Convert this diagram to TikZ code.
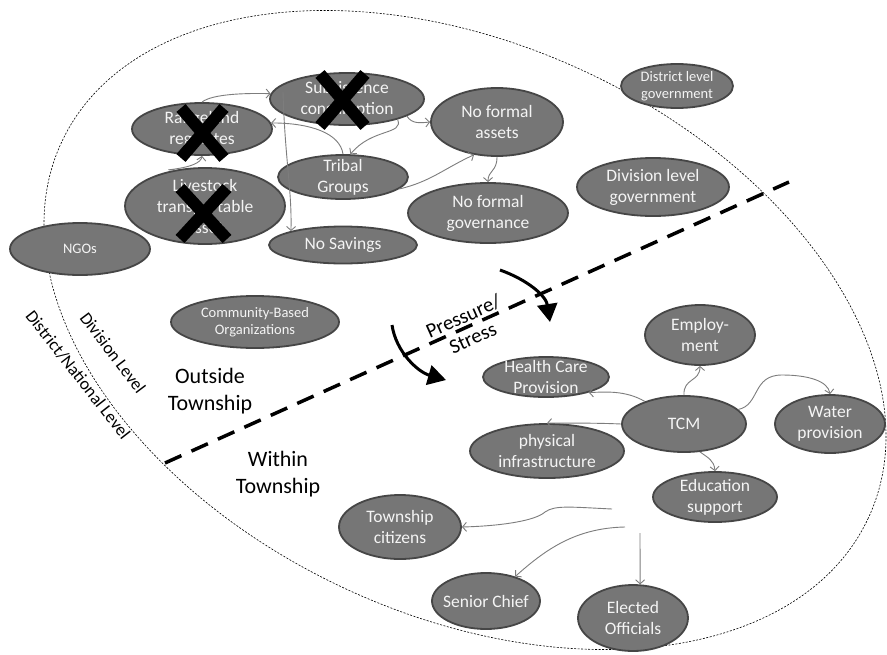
\documentclass[tikz,border=0pt]{standalone}
\usepackage{fontspec}
\setmainfont{Carlito}
\usetikzlibrary{arrows.meta,shapes.geometric}
\definecolor{nodefill}{RGB}{118,118,118}
\definecolor{nodeedge}{RGB}{70,70,70}
\definecolor{nodetext}{RGB}{244,244,244}
\definecolor{linkgray}{RGB}{125,125,125}
\tikzset{
  ell/.style={ellipse, draw=nodeedge, line width=1.8pt, fill=nodefill, text=nodetext,
    inner xsep=-20pt, inner ysep=-14pt, align=center, font=\fontsize{17.5}{21}\selectfont},
  ells/.style={ell, font=\fontsize{14.5}{17.5}\selectfont},
  link/.style={draw=linkgray, line width=0.9pt, -{Straight Barb[length=4pt,width=9pt]}},
  crossmark/.style={line width=12pt, black},
  biglbl/.style={align=center, text=black, font=\fontsize{22}{27}\selectfont},
  stresslbl/.style={align=center, text=black, font=\fontsize{20.5}{23.5}\selectfont},
  levellbl/.style={text=black, font=\fontsize{17.5}{21}\selectfont},
  bigarrow/.style={line width=3pt, black, -{Triangle[length=18pt,width=20pt]}}
}
\begin{document}
\begin{tikzpicture}[x=1pt,y=-1pt]
\useasboundingbox (0,0) rectangle (887,654);
\fill[white] (0,0) rectangle (887,654);

% outer dashed boundary
\draw[black, line width=0.6pt, dash pattern=on 2pt off 1.5pt, rotate around={-25:(465,330)}]
  (465,330) ellipse [x radius=445, y radius=285];

% upper group
\node[ell, minimum width=140pt, minimum height=52pt] (raw) at (202,129) {Rangeland\\regulates};
\node[ell, minimum width=154pt, minimum height=52pt] (sub) at (347,99) {Subsistence\\consumption};
\node[ell, minimum width=130pt, minimum height=44pt] (tribal) at (343,177) {Tribal\\Groups};
\node[ell, minimum width=160pt, minimum height=76pt] (live) at (205,206) {Livestock\\transportable\\asset};
\node[ell, minimum width=148pt, minimum height=37pt] (nosav) at (343,245) {No Savings};
\node[ell, minimum width=132pt, minimum height=68pt] (nfa) at (497,122) {No formal\\assets};
\node[ell, minimum width=160pt, minimum height=60pt] (nfg) at (488,213) {No formal\\governance};
\node[ell, minimum width=152pt, minimum height=58pt] (divg) at (653,187) {Division level\\government};
\node[ells, minimum width=112pt, minimum height=44pt] (distg) at (677,86) {District level\\government};
\node[ells, minimum width=140pt, minimum height=52pt] (ngo) at (80,249) {NGOs};
\node[ells, minimum width=168pt, minimum height=52pt] (cbo) at (255,322) {Community-Based\\Organizations};

% lower group
\node[ell, minimum width=110pt, minimum height=60pt] (emp) at (700,335) {Employ-\\ment};
\node[ell, minimum width=126pt, minimum height=40pt] (hc) at (546,377) {Health Care\\Provision};
\node[ell, minimum width=124pt, minimum height=56pt] (tcm) at (684,424) {TCM};
\node[ell, minimum width=110pt, minimum height=58pt] (water) at (830,424) {Water\\provision};
\node[ell, minimum width=154pt, minimum height=54pt] (phys) at (547,451) {physical\\infrastructure};
\node[ell, minimum width=124pt, minimum height=50pt] (edu) at (715,497) {Education\\support};
\node[ell, minimum width=122pt, minimum height=64pt] (town) at (400,527) {Township\\citizens};
\node[ell, minimum width=108pt, minimum height=56pt] (senior) at (486,601) {Senior Chief};
\node[ell, minimum width=110pt, minimum height=66pt] (elected) at (633,618) {Elected\\Officials};

% upper connectors
\coordinate (sv) at (283,92);
\draw[link] (raw.north) .. controls (212,94) and (245,93) .. (sub.176);
\draw[link] (tribal.north) .. controls (340,133) and (310,123) .. (raw.5);
\draw[link] (sub.-22) .. controls (404,135) and (372,128) .. (tribal.72);
\draw[link] (sub.-16) .. controls (412,124) and (420,123) .. (nfa.west);
\draw[link] (tribal.-12) .. controls (430,182) and (445,168) .. (nfa.235);
\draw[link] (live.130) .. controls (152,170) and (200,170) .. (raw.south);
\draw[link] (sv) .. controls (285,160) and (292,190) .. (nosav.165);
\draw[link] (nfa.south) .. controls (497,172) and (488,170) .. (nfg.north);

% lower connectors
\coordinate (c1) at (612,509);
\coordinate (c2) at (625,527);
\coordinate (c3) at (640,533);
\draw[link] (tcm.150) .. controls (625,390) and (605,392) .. (hc.-20);
\draw[link] (tcm.north) .. controls (683,378) and (700,382) .. (emp.south);
\draw[link] (tcm.15) .. controls (760,405) and (752,375) .. (782,375) .. controls (808,375) and (828,381) .. (water.north);
\draw[link] (tcm.west) .. controls (600,423) and (570,423) .. (phys.north);
\draw[link] (tcm.-60) .. controls (708,458) and (714,460) .. (edu.north);
\draw[link] (c1) .. controls (570,507) and (555,505) .. (545,512) .. controls (535,521) and (500,526) .. (town.east);
\draw[link] (c2) .. controls (575,528) and (545,550) .. (senior.40);
\draw[link] (c3) -- (elected.78);

% crosses
\draw[crossmark] (181,108) -- (224,158) (224,108) -- (181,158);
\draw[crossmark] (320,74) -- (365,126) (365,74) -- (320,126);
\draw[crossmark] (180,188) -- (227,239) (227,188) -- (180,239);

% boundary between outside/within township
\coordinate (b1) at (165,463);
\coordinate (b2) at (789,182);
\draw[black, line width=3.5pt, dash pattern=on 18pt off 11pt] (b1) -- (b2);

% pressure arrows
\coordinate (a1s) at (500,270);
\coordinate (a1e) at (550,322);
\coordinate (a2s) at (392,325);
\coordinate (a2e) at (446,380);
\draw[bigarrow] (a1s) .. controls (528,280) and (546,296) .. (a1e);
\draw[bigarrow] (a2s) .. controls (396,352) and (418,372) .. (a2e);

% labels
\node[stresslbl, rotate=24] (press) at (468,327) {Pressure/\\Stress};
\node[biglbl] (outside) at (210,391) {Outside\\Township};
\node[biglbl] (within) at (278,474) {Within\\Township};
\node[levellbl, rotate=-53] (divlvl) at (113,353) {Division Level};
\node[levellbl, rotate=-52] (distlvl) at (78,375) {District/National Level};
\end{tikzpicture}
\end{document}
